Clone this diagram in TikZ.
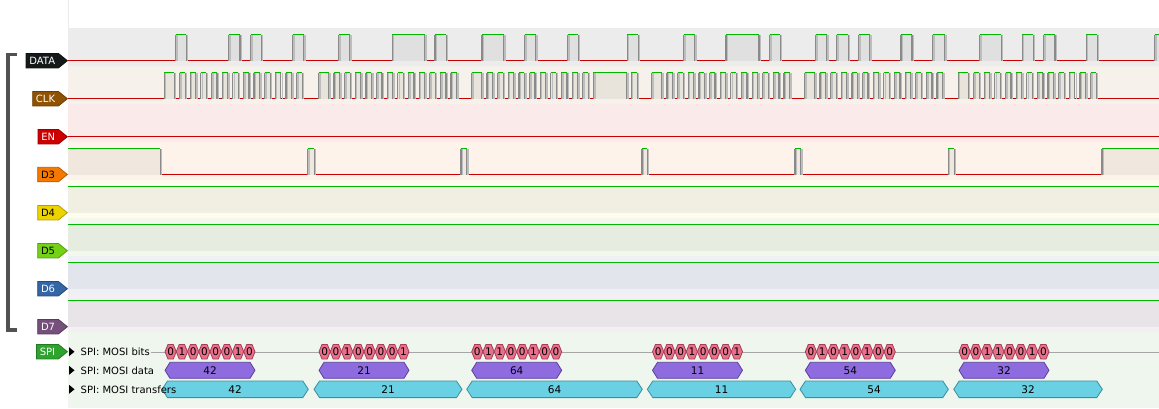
\documentclass[tikz,border=0pt]{standalone}
\usepackage{fontspec}
\setmainfont{DejaVu Sans}
\usetikzlibrary{shapes.symbols}
\definecolor{sigred}{HTML}{C80000}
\definecolor{sighigh}{HTML}{00B800}
\definecolor{edgegray}{HTML}{8A8A8A}
\definecolor{shadegray}{HTML}{BDBDBD}
\definecolor{tagdata}{HTML}{16191A}
\definecolor{tagclk}{HTML}{8F5202}
\definecolor{tagen}{HTML}{CC0000}
\definecolor{tagdiii}{HTML}{F57900}
\definecolor{tagdiv}{HTML}{EDD400}
\definecolor{tagdv}{HTML}{73D216}
\definecolor{tagdvi}{HTML}{3465A4}
\definecolor{tagdvii}{HTML}{75507B}
\definecolor{tagspi}{HTML}{2EA32E}
\definecolor{banddata}{HTML}{ECECEC}
\definecolor{bandclk}{HTML}{F6F1EA}
\definecolor{banden}{HTML}{FBEAEA}
\definecolor{banddiii}{HTML}{FDF3EA}
\definecolor{banddiv}{HTML}{FEFCEC}
\definecolor{banddv}{HTML}{F2F8EC}
\definecolor{banddvi}{HTML}{EFF0F6}
\definecolor{banddvii}{HTML}{F3EFF3}
\definecolor{bandspi}{HTML}{EEF6EE}
\definecolor{hidata}{HTML}{E0E0E0}
\definecolor{hiclk}{HTML}{E8E4DC}
\definecolor{hidiii}{HTML}{F0E8DF}
\definecolor{hidiv}{HTML}{F1EFE1}
\definecolor{hidv}{HTML}{E6EDE0}
\definecolor{hidvi}{HTML}{E2E5EC}
\definecolor{hidvii}{HTML}{E8E4E8}
\definecolor{bitfill}{HTML}{E8708A}
\definecolor{bitline}{HTML}{A83C58}
\definecolor{datafill}{HTML}{8E6CE0}
\definecolor{dataline}{HTML}{5B3F9E}
\definecolor{xferfill}{HTML}{6AD0E3}
\definecolor{xferline}{HTML}{3A8FA0}
\tikzset{
  lowline/.style={draw=sigred, line width=1pt},
  highline/.style={draw=sighigh, line width=1pt},
  sigedge/.style={draw=edgegray, line width=1.2pt},
  edgeshade/.style={draw=shadegray, line width=1.4pt},
  chtag/.style={signal, signal to=east, signal pointer angle=78,
    fill=#1, draw=#1!75!black, line width=0.8pt, minimum height=14.5pt,
    inner xsep=3.3pt, inner ysep=0pt, text height=7.5pt, text depth=0pt,
    anchor=east},
  rowlabel/.style={anchor=west, inner sep=0pt, fill=bandspi, inner xsep=1pt},
  hextext/.style={inner sep=0pt, font=\fontsize{10.5}{12}\selectfont},
  bitbox/.style={fill=bitfill, draw=bitline, line width=0.8pt},
  databox/.style={fill=datafill, draw=dataline, line width=0.8pt},
  xferbox/.style={fill=xferfill, draw=xferline, line width=0.8pt},
  bracket/.style={draw=black!68, line width=3.5pt}
}
\newcommand{\pulse}[4]{
  \fill[#4] (#2,#1-26) rectangle (#3,#1+0.6);
  \draw[edgeshade] (#2+1.4,#1-26) -- (#2+1.4,#1);
  \draw[edgeshade] (#3+1.4,#1-26) -- (#3+1.4,#1);
  \draw[sigedge] (#2,#1-26) -- (#2,#1+0.5);
  \draw[sigedge] (#3,#1-26) -- (#3,#1+0.5);
  \draw[highline] (#2,#1-26) -- (#3,#1-26);
}
\newcommand{\hexa}[8]{
  \draw[#6] (#1,#3) -- (#1+#5,#3-#4) -- (#2-#5,#3-#4) -- (#2,#3)
    -- (#2-#5,#3+#4) -- (#1+#5,#3+#4) -- cycle;
  \node[hextext] (#7) at ({(#1+#2)/2},#3) {#8};
}
\begin{document}
\begin{tikzpicture}[x=1pt,y=-1pt]
  \useasboundingbox (0,0) rectangle (1159,408);
  \draw[black!8] (68,0) -- (68,28);
  \foreach \t/\c in {28/banddata,66/bandclk,104/banden,142/banddiii,
      180/banddiv,218/banddv,256/banddvi,294/banddvii}
    \fill[\c] (68,\t) rectangle (1159,\t+38);
  \fill[bandspi] (68,332) rectangle (1159,408);

  \begin{scope}
    \clip (68,28) rectangle (1159,332);
    \foreach \b in {60.7,98.7,136.7,174.5}
      \draw[lowline] (68,\b) -- (1159,\b);
    \foreach \a/\e in {175.7/186.3,228.7/240,250.7/261.3,292.7/303.7,
        338.7/349.7,392.3/424.7,435/446.3,482/503.7,524.7/535.7,
        567.5/578.3,627.3/638.3,683.7/694.7,726/759,769.7/780.3,
        815.7/826.7,836.7/848.3,858.7/869.7,901/912,932.7/944.5,
        979.7/1001.3,1022.3/1033.3,1043.7/1055,1086.3/1097.3,1154.7/1165}
      {\pulse{60.7}{\a}{\e}{hidata}}
    \foreach \s/\n in {164.3/11,318.7/11,471.7/9,651.7/11,804.7/11,958.3/11} {
      \pulse{98.7}{\s}{\s+10}{hiclk}
      \foreach \k in {0,...,\n}
        {\pulse{98.7}{\s+15.3+\k*10.64}{\s+20.8+\k*10.64}{hiclk}}
    }
    \pulse{98.7}{593.4}{626.7}{hiclk}
    \pulse{98.7}{631.3}{637.2}{hiclk}
    \foreach \a/\e in {60/160.3,307.7/314.3,461/466.7,642/647.3,
        795/800.7,948.3/954.3,1102/1165}
      {\pulse{174.5}{\a}{\e}{hidiii}}
    \pulse{212.7}{60}{1165}{hidiv}
    \pulse{250.7}{60}{1165}{hidv}
    \pulse{288.7}{60}{1165}{hidvi}
    \pulse{326.7}{60}{1165}{hidvii}
  \end{scope}

  \node[chtag=tagdata, text=white] (data) at (68,60.7) {DATA};
  \node[chtag=tagclk, text=white] (clk) at (68,98.7) {CLK};
  \node[chtag=tagen, text=white] (en) at (68,136.7) {EN};
  \node[chtag=tagdiii] (d3) at (68,174.5) {D3};
  \node[chtag=tagdiv] (d4) at (68,212.7) {D4};
  \node[chtag=tagdv] (d5) at (68,250.7) {D5};
  \node[chtag=tagdvi, text=white] (d6) at (68,288.7) {D6};
  \node[chtag=tagdvii, text=white] (d7) at (68,326.7) {D7};
  \node[chtag=tagspi, text=white] (spi) at (68,351.7) {SPI};
  \draw[bracket] (16.7,54.5) -- (8,54.5) -- (8,330) -- (16.7,330);

  \coordinate (bitsend) at (1159,351.7);
  \draw[black!35] (150,351.7) -- (bitsend);
  \foreach \bs/\ts/\te/\bits/\val [count=\t] in {
      165/162/308.3/{0,1,0,0,0,0,1,0}/42,
      319/314/462/{0,0,1,0,0,0,0,1}/21,
      471.7/466.7/642.3/{0,1,1,0,0,1,0,0}/64,
      652.5/647.3/795.7/{0,0,0,1,0,0,0,1}/11,
      805.3/800/948.3/{0,1,0,1,0,1,0,0}/54,
      959/953.7/1102.3/{0,0,1,1,0,0,1,0}/32} {
    \foreach \v [count=\k from 0] in \bits
      {\hexa{\bs+\k*11.25}{\bs+\k*11.25+11.25}{351.7}{7.3}{3}{bitbox}{bit\t-\k}{\v}}
    \hexa{\bs}{\bs+90}{370.3}{8}{5}{databox}{data\t}{\val}
    \hexa{\ts}{\te}{389.3}{8.3}{5.5}{xferbox}{xfer\t}{\val}
  }
  \foreach \y in {351.7,370.3,389.3}
    \fill (69,\y-4.5) -- (74.5,\y) -- (69,\y+4.5) -- cycle;
  \node[rowlabel] (bits) at (79.5,351.7) {SPI: MOSI bits};
  \node[rowlabel, fill=none] (mosidata) at (79.5,370.3) {SPI: MOSI data};
  \node[rowlabel, fill=none] (transfers) at (79.5,389.3) {SPI: MOSI transfers};
\end{tikzpicture}
\end{document}
